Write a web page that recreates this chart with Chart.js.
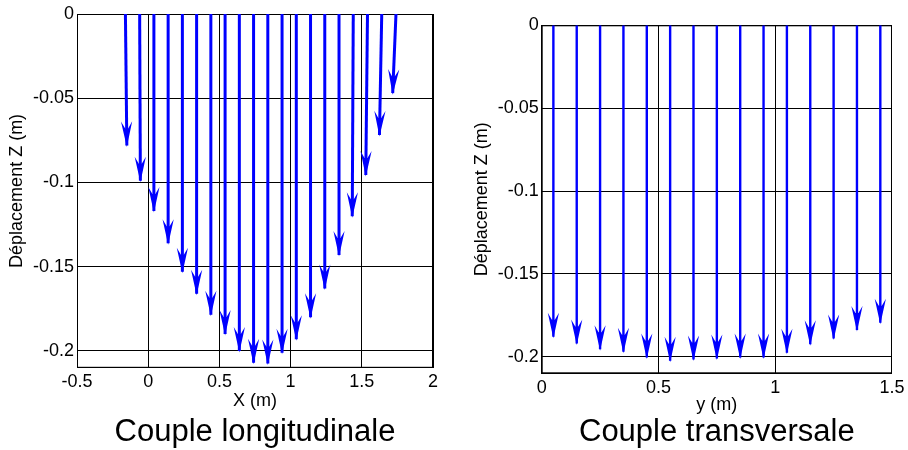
<!DOCTYPE html>
<html>
<head>
<meta charset="utf-8">
<script src="https://cdn.jsdelivr.net/npm/chart.js@4.4.1/dist/chart.umd.min.js"></script>
<style>
    body { margin: 0; background: #fff; }
    #chartLong { position: absolute; left: 0; top: 0; }
    #chartTrans { position: absolute; left: 460px; top: 0; }
</style>
</head>
<body>
<canvas id="chartLong" width="460" height="450"></canvas>
<canvas id="chartTrans" width="448" height="450"></canvas>
<script>
// Couple longitudinale : position des flèches, décalage horizontal et déplacement Z
const longX = [-0.16, -0.06, 0.04, 0.14, 0.24, 0.34, 0.44, 0.54, 0.64, 0.74,
               0.84, 0.94, 1.04, 1.14, 1.24, 1.34, 1.44, 1.54, 1.64, 1.74];
const longDx = [0.01, 0.005, 0, 0, 0, 0, 0, 0, 0, 0,
                0, 0, 0, 0, 0, 0, -0.007, -0.012, -0.016, -0.023];
const longZ = [-0.078, -0.099, -0.117, -0.136, -0.153, -0.166, -0.1785, -0.190, -0.200, -0.207,
               -0.2075, -0.201, -0.193, -0.180, -0.163, -0.143, -0.120, -0.0955, -0.0718, -0.047];
const longXTicks = [-0.5, 0, 0.5, 1, 1.5, 2];

// Couple transversale
const transY = [0.05, 0.15, 0.25, 0.35, 0.45, 0.55, 0.65, 0.75, 0.85, 0.95, 1.05, 1.15, 1.25, 1.35, 1.45];
const transDx = [0, 0, 0, 0, 0, 0, 0, 0, 0, 0, 0, 0, 0, 0, 0];
const transZ = [-0.188, -0.192, -0.1955, -0.197, -0.2004, -0.2024, -0.2016, -0.201, -0.2004, -0.2004,
                -0.1976, -0.1925, -0.189, -0.1838, -0.1795];
const transXTicks = [0, 0.5, 1, 1.5];

const zTicks = [0, -0.05, -0.1, -0.15, -0.2];

const FONT = 'Liberation Sans, Arial, Helvetica, sans-serif';
Chart.defaults.color = '#000';
Chart.defaults.font.family = FONT;

// pointe de flèche style quiver Matlab
const arrowHeads = {
    id: 'arrowHeads',
    beforeDatasetsDraw(chart) {
        const a = chart.chartArea;
        const ctx = chart.ctx;
        ctx.save();
        ctx.strokeStyle = '#000';
        ctx.lineWidth = 1;
        ctx.strokeRect(a.left + 0.5, a.top + 0.5, a.width - 1, a.height - 1);
        ctx.restore();
    },
    afterDatasetsDraw(chart) {
        const ctx = chart.ctx;
        chart.data.datasets.forEach((ds, i) => {
            const pts = chart.getDatasetMeta(i).data;
            const p0 = pts[0], p1 = pts[pts.length - 1];
            const ang = Math.atan2(p1.y - p0.y, p1.x - p0.x);
            ctx.save();
            ctx.translate(p1.x, p1.y);
            ctx.rotate(ang);
            ctx.fillStyle = ds.borderColor;
            ctx.beginPath();
            ctx.moveTo(1.5, 0);
            ctx.lineTo(-24, -5.6);
            ctx.lineTo(-17, -1.5);
            ctx.lineTo(-17, 1.5);
            ctx.lineTo(-24, 5.6);
            ctx.closePath();
            ctx.fill();
            ctx.restore();
        });
    }
};

function quiver(xs, dxs, zs, width) {
    return xs.map((x, i) => ({
        data: [{x: x, y: 0}, {x: x + dxs[i], y: zs[i]}],
        borderColor: '#0000ff',
        borderWidth: width,
        showLine: true,
        pointRadius: 0,
        pointHoverRadius: 0
    }));
}

function makeChart(id, cfg) {
    return new Chart(document.getElementById(id), {
        type: 'scatter',
        data: { datasets: quiver(cfg.xs, cfg.dxs, cfg.zs, cfg.lineW) },
        options: {
            responsive: false,
            animation: false,
            layout: { padding: cfg.pad },
            plugins: {
                legend: { display: false },
                tooltip: { enabled: false },
                title: {
                    display: true,
                    text: cfg.caption,
                    position: 'bottom',
                    fullSize: false,
                    font: { size: 31, weight: 'normal', lineHeight: 1.0 },
                    padding: { top: cfg.capTop, bottom: 0 }
                }
            },
            scales: {
                x: {
                    type: 'linear',
                    min: cfg.xMin,
                    max: cfg.xMax,
                    afterBuildTicks: s => { s.ticks = cfg.xTicks.map(v => ({value: v})); },
                    afterFit: s => { s.height = cfg.xH; },
                    grid: { color: '#000', lineWidth: 1, drawTicks: false },
                    border: { color: '#000' },
                    ticks: { font: { size: 18 }, padding: 3.5, maxRotation: 0, autoSkip: false,
                             callback: v => String(v) },
                    title: { display: true, text: cfg.xTitle, font: { size: 18 }, padding: { top: 0, bottom: 0 } }
                },
                y: {
                    type: 'linear',
                    min: -0.21,
                    max: 0,
                    afterBuildTicks: s => { s.ticks = zTicks.map(v => ({value: v})); },
                    afterFit: s => { s.width = cfg.yW; },
                    grid: { color: '#000', lineWidth: 1, drawTicks: false },
                    border: { color: '#000' },
                    ticks: { font: { size: 18 }, padding: 3, autoSkip: false,
                             callback: v => String(v) },
                    title: { display: true, text: 'Déplacement Z (m)', font: { size: 18 },
                             padding: { top: cfg.yTitlePad, bottom: 0 } }
                }
            }
        },
        plugins: [arrowHeads]
    });
}

makeChart('chartLong', {
    xs: longX, dxs: longDx, zs: longZ, lineW: 3,
    xMin: -0.5, xMax: 2, xTicks: longXTicks,
    xTitle: 'X (m)', caption: 'Couple longitudinale',
    pad: { left: 0, right: 27, top: 14, bottom: 2.2 },
    yW: 77, xH: 44.5, capTop: 4.5, yTitlePad: 6.7
});

makeChart('chartTrans', {
    xs: transY, dxs: transDx, zs: transZ, lineW: 2.4,
    xMin: 0, xMax: 1.5, xTicks: transXTicks,
    xTitle: 'y (m)', caption: 'Couple transversale',
    pad: { left: 0, right: 14.7, top: 25.3, bottom: 2.2 },
    yW: 81.7, xH: 42.5, capTop: 1, yTitlePad: 10.9
});
</script>
</body>
</html>
